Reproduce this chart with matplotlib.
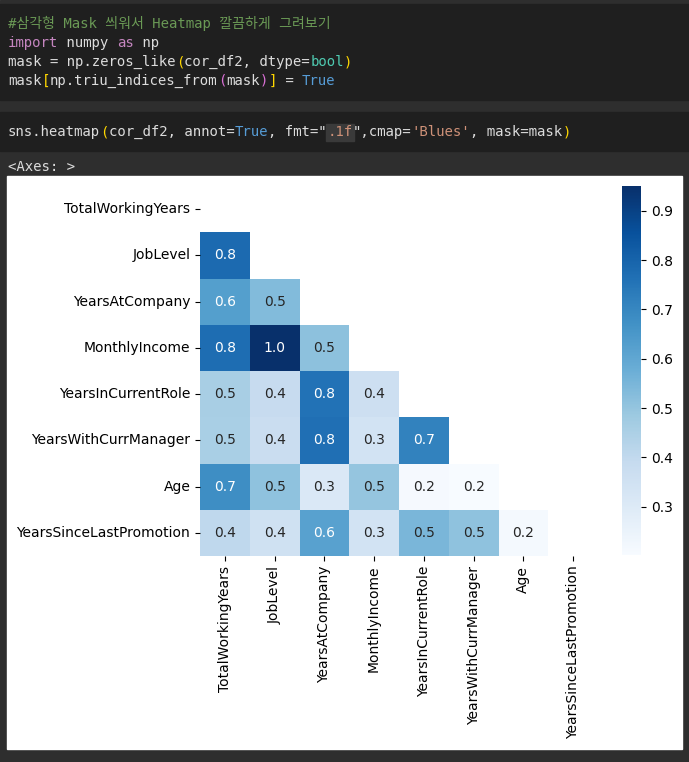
import numpy as np
import pandas as pd
import matplotlib
matplotlib.use("Agg")
import matplotlib.pyplot as plt
from matplotlib.patches import Rectangle
import seaborn as sns

# column order of cor_df2
labels = ["TotalWorkingYears", "JobLevel", "YearsAtCompany", "MonthlyIncome",
          "YearsInCurrentRole", "YearsWithCurrManager", "Age",
          "YearsSinceLastPromotion"]

# lower triangle of the correlation matrix, row by row
lower_rows = [
    [],
    [0.782],
    [0.628, 0.535],
    [0.773, 0.9503, 0.514],
    [0.460, 0.389, 0.759, 0.364],
    [0.459, 0.375, 0.769, 0.344, 0.714],
    [0.680, 0.510, 0.311, 0.498, 0.213, 0.202],
    [0.404, 0.354, 0.618, 0.345, 0.548, 0.510, 0.216],
]

n = len(labels)
cor = np.eye(n)
for i, row in enumerate(lower_rows):
    for j, v in enumerate(row):
        cor[i, j] = v
        cor[j, i] = v
cor_df2 = pd.DataFrame(cor, index=labels, columns=labels)

mask = np.zeros_like(cor_df2, dtype=bool)
mask[np.triu_indices_from(mask)] = True

# notebook colours
dark = "#1f1f1f"
gray = "#2e2e2e"
fg = "#dcdcdc"
green = "#6a9955"
purple = "#c586c0"
yellow = "#ffd700"
teal = "#4ec9b0"
blue = "#569cd6"
magenta = "#da70d6"
orange = "#ce9178"

W, H = 689, 762
fig = plt.figure(figsize=(W / 100, H / 100), dpi=100)

bg = fig.add_axes([0, 0, 1, 1])
bg.set_xlim(0, W)
bg.set_ylim(H, 0)
bg.axis("off")
bg.add_patch(Rectangle((0, 0), W, H, color=gray))
bg.add_patch(Rectangle((0, 4), W, 96, color=dark))
bg.add_patch(Rectangle((0, 112), W, 39, color=dark))
bg.add_patch(Rectangle((7, 176), 675, 573, color="white"))

fs = 10.05
cw = 0.602 * fs * 100 / 72  # width of one mono char in px
mono = ["DejaVu Sans Mono", "Noto Sans CJK KR"]

code_lines = [
    (23, [("#삼각형 Mask 씌워서 Heatmap 깔끔하게 그려보기", green)]),
    (43, [("import", purple), (" numpy ", fg), ("as", purple), (" np", fg)]),
    (62, [("mask = np.zeros_like", fg), ("(", yellow), ("cor_df2, dtype=", fg),
          ("bool", teal), (")", yellow)]),
    (81, [("mask", fg), ("[", yellow), ("np.triu_indices_from", fg), ("(", magenta),
          ("mask", fg), (")", magenta), ("]", yellow), (" = ", fg), ("True", blue)]),
    (132, [("sns.heatmap", fg), ("(", yellow), ("cor_df2, annot=", fg), ("True", blue),
           (", fmt=\"", fg), (".1f", orange), ("\",cmap=", fg), ("'Blues'", orange),
           (", mask=mask", fg), (")", yellow)]),
    (167, [("<Axes: >", fg)]),
]

x0 = 8
for y, segs in code_lines:
    k = 0
    for txt, col in segs:
        if txt == ".1f":
            bg.add_patch(Rectangle((x0 + k * cw - 1, y - 8), len(txt) * cw + 2, 17,
                                   color="#3a3a3a", zorder=1))
        bg.text(x0 + k * cw, y, txt, color=col, fontsize=fs, family=mono,
                va="center", ha="left", zorder=2)
        k += len(txt)

ax = fig.add_axes([200 / W, 1 - 556 / H, 398 / W, 370 / H])
cax = fig.add_axes([622 / W, 1 - 555 / H, 19 / W, 369 / H])
sns.heatmap(cor_df2, annot=True, fmt=".1f", cmap='Blues', mask=mask, ax=ax, cbar_ax=cax)
ax.set_xticklabels(labels, rotation=90)
ax.set_yticklabels(labels, rotation=0)

fig.savefig("out.png", dpi=100)
